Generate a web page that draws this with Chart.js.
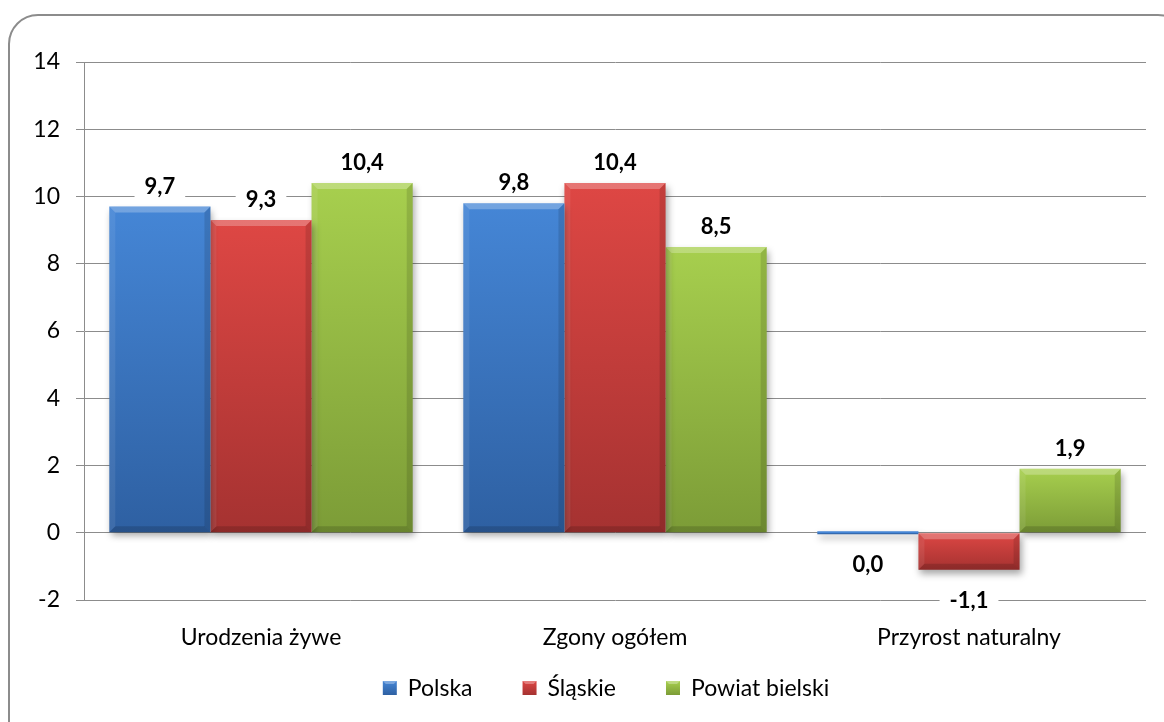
<!DOCTYPE html>
<html>
<head>
<meta charset="utf-8">
<script src="https://cdn.jsdelivr.net/npm/chart.js@4"></script>
<style>
  html, body { margin: 0; padding: 0; background: #fff; overflow: hidden; }
  #frame { position: absolute; left: 8px; top: 14px; width: 1180px; height: 740px;
           border: 2px solid #8c8c8c; border-radius: 30px; box-sizing: border-box; }
  #wrap { position: absolute; left: 0; top: 0; width: 1164px; height: 722px; }
</style>
</head>
<body>
<div id="frame"></div>
<div id="wrap"><canvas id="c" width="1164" height="722"></canvas></div>
<script>
const categories = ['Urodzenia żywe', 'Zgony ogółem', 'Przyrost naturalny'];
const seriesNames = ['Polska', 'Śląskie', 'Powiat bielski'];
const polska = [9.7, 9.8, 0.0];
const slaskie = [9.3, 10.4, -1.1];
const powiatBielski = [10.4, 8.5, 1.9];
const yTicks = [-2, 0, 2, 4, 6, 8, 10, 12, 14];

const FONT = 'Lato';
const palette = [
  { top: '#4586d6', bot: '#2e60a2', mid: '#3b74be' },
  { top: '#de4744', bot: '#a53231', mid: '#c43c3a' },
  { top: '#a7cf4e', bot: '#7c9c37', mid: '#92b843' }
];

function fmt(v) { return Number(v.toFixed(1)).toFixed(1).replace('.', ','); }

function barFill(context) {
  const chart = context.chart;
  const p = palette[context.datasetIndex];
  const ys = chart.scales && chart.scales.y;
  if (!ys || context.type !== 'data') return p.mid;
  const v = context.raw;
  const top = ys.getPixelForValue(Math.max(v, 0));
  const bot = ys.getPixelForValue(Math.min(v, 0));
  if (!isFinite(top) || !isFinite(bot)) return p.mid;
  const g = chart.ctx.createLinearGradient(0, top, 0, Math.max(bot, top + 1));
  g.addColorStop(0, p.top);
  g.addColorStop(1, p.bot);
  return g;
}

const styling = {
  id: 'styling',
  beforeDatasetsDraw(chart) {
    const ctx = chart.ctx;
    ctx.save();
    ctx.shadowColor = 'rgba(0,0,0,0.35)';
    ctx.shadowBlur = 7;
    ctx.shadowOffsetX = 2;
    ctx.shadowOffsetY = 4;
  },
  afterDatasetsDraw(chart) {
    const ctx = chart.ctx;
    ctx.restore();
    // bevel
    chart.data.datasets.forEach((ds, di) => {
      const meta = chart.getDatasetMeta(di);
      meta.data.forEach(el => {
        const l = el.x - el.width / 2, r = el.x + el.width / 2;
        const t = Math.min(el.y, el.base), b = Math.max(el.y, el.base);
        const h = b - t;
        if (h < 4) return;
        const s = Math.min(6, h / 2);
        ctx.save();
        ctx.fillStyle = 'rgba(255,255,255,0.25)';
        ctx.beginPath(); ctx.moveTo(l, t); ctx.lineTo(r, t); ctx.lineTo(r - s, t + s); ctx.lineTo(l + s, t + s); ctx.closePath(); ctx.fill();
        ctx.fillStyle = 'rgba(255,255,255,0.08)';
        ctx.beginPath(); ctx.moveTo(l, t); ctx.lineTo(l + s, t + s); ctx.lineTo(l + s, b - s); ctx.lineTo(l, b); ctx.closePath(); ctx.fill();
        ctx.fillStyle = 'rgba(0,0,0,0.12)';
        ctx.beginPath(); ctx.moveTo(r, t); ctx.lineTo(r, b); ctx.lineTo(r - s, b - s); ctx.lineTo(r - s, t + s); ctx.closePath(); ctx.fill();
        ctx.fillStyle = 'rgba(0,0,0,0.15)';
        ctx.beginPath(); ctx.moveTo(l, b); ctx.lineTo(r, b); ctx.lineTo(r - s, b - s); ctx.lineTo(l + s, b - s); ctx.closePath(); ctx.fill();
        ctx.restore();
      });
    });
    // value labels
    ctx.save();
    ctx.font = 'bold 22px ' + FONT;
    ctx.textAlign = 'center';
    ctx.textBaseline = 'middle';
    chart.data.datasets.forEach((ds, di) => {
      const meta = chart.getDatasetMeta(di);
      meta.data.forEach((el, i) => {
        const v = ds.data[i];
        const txt = fmt(v);
        let y;
        if (v > 0) y = Math.min(el.y, el.base) - 21;
        else y = Math.max(el.y, el.base) + 30;
        const w = ctx.measureText(txt).width + 20;
        ctx.fillStyle = '#ffffff';
        ctx.fillRect(el.x - w / 2, y - 13, w, 26);
        ctx.fillStyle = '#000000';
        ctx.fillText(txt, el.x, y + 1);
      });
    });
    ctx.restore();
  },
  afterDraw(chart) {
    // legend
    const ctx = chart.ctx;
    ctx.save();
    ctx.font = '23px ' + FONT;
    ctx.textBaseline = 'middle';
    ctx.textAlign = 'left';
    const box = 14, gapText = 11, gapItem = 50;
    const items = chart.data.datasets.map((ds, i) => ({ text: ds.label, i, w: box + gapText + ctx.measureText(ds.label).width }));
    const total = items.reduce((s, it) => s + it.w, 0) + gapItem * (items.length - 1);
    const cy = 688;
    let x = 606 - total / 2;
    items.forEach(it => {
      const p = palette[it.i];
      const g = ctx.createLinearGradient(0, cy - 7, 0, cy + 7);
      g.addColorStop(0, p.top);
      g.addColorStop(1, p.bot);
      ctx.fillStyle = g;
      ctx.fillRect(x, cy - 7, box, box);
      ctx.fillStyle = 'rgba(255,255,255,0.3)';
      ctx.beginPath(); ctx.moveTo(x, cy - 7); ctx.lineTo(x + box, cy - 7); ctx.lineTo(x + box - 3, cy - 4); ctx.lineTo(x + 3, cy - 4); ctx.closePath(); ctx.fill();
      ctx.fillStyle = '#000';
      ctx.fillText(it.text, x + box + gapText, cy + 1);
      x += it.w + gapItem;
    });
    ctx.restore();
  }
};

const datasets = [polska, slaskie, powiatBielski].map((d, i) => ({
  label: seriesNames[i],
  data: d,
  backgroundColor: barFill,
  borderWidth: 0,
  minBarLength: 3,
  barPercentage: 1.0,
  categoryPercentage: 0.857
}));

new Chart(document.getElementById('c'), {
  type: 'bar',
  data: { labels: categories, datasets },
  options: {
    responsive: false,
    animation: false,
    devicePixelRatio: 1,
    layout: { padding: { left: 0, top: 62, right: 18, bottom: 0 } },
    plugins: {
      tooltip: { enabled: false },
      legend: { display: false }
    },
    scales: {
      x: {
        grid: { display: false },
        border: { display: false },
        ticks: { font: { family: FONT, size: 23 }, color: '#000', padding: 16 },
        afterFit(scale) { scale.height = 122; }
      },
      y: {
        min: -2, max: 14,
        afterBuildTicks(scale) { scale.ticks = yTicks.map(v => ({ value: v })); },
        grid: { color: '#8c8c8c', lineWidth: 1, tickLength: 8 },
        border: { display: true, color: '#8c8c8c', width: 1 },
        ticks: { font: { family: FONT, size: 23 }, color: '#000', padding: 16,
                 callback: v => String(v) },
        afterFit(scale) { scale.width = 84; }
      }
    }
  },
  plugins: [styling]
});
</script>
</body>
</html>
